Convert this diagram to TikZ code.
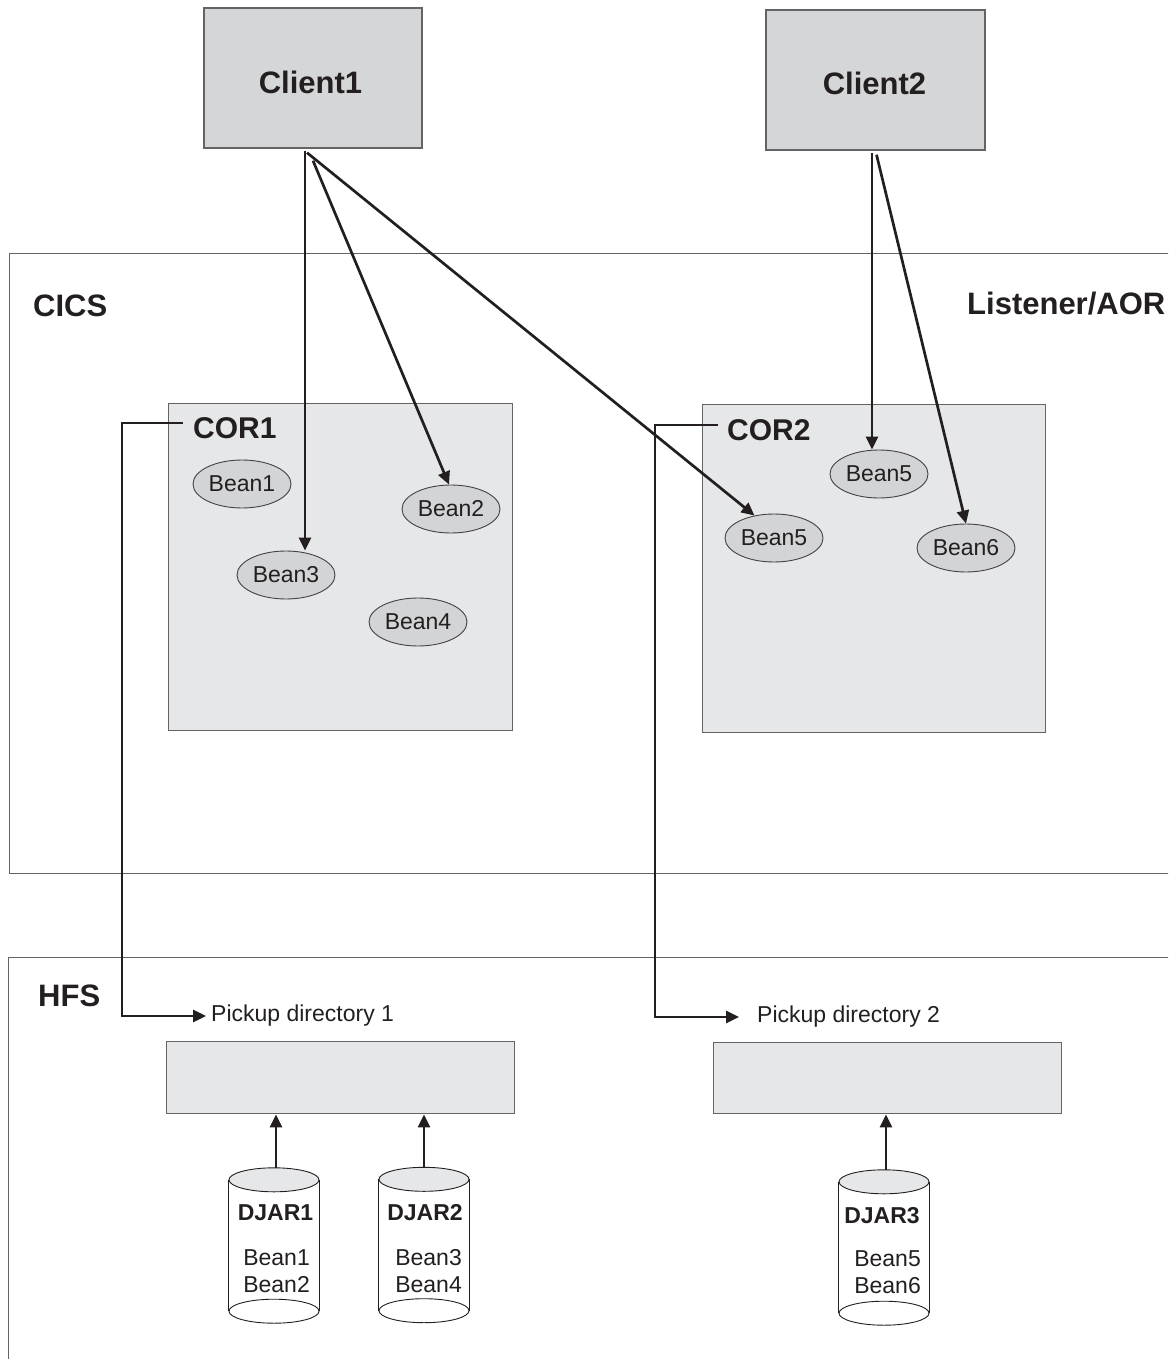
\documentclass[tikz,border=0pt]{standalone}
\usepackage{fontspec}
\setmainfont{Liberation Sans}
\usetikzlibrary{arrows.meta,shapes.geometric,calc}
\definecolor{ink}{HTML}{231F20}
\definecolor{frame}{HTML}{636466}
\definecolor{clientfill}{HTML}{D5D6D8}
\definecolor{lightfill}{HTML}{E6E7E8}
\definecolor{beanfill}{HTML}{D3D4D6}
\begin{document}
\begin{tikzpicture}[x=1pt,y=-1pt,
  box/.style={draw=frame,line width=1.4pt,inner sep=0pt},
  client/.style={box,fill=clientfill,minimum width=218pt,minimum height=140pt},
  clientlbl/.style={inner sep=0pt,font=\fontsize{31}{36}\selectfont\bfseries,text=ink},
  area/.style={box,anchor=north west},
  region/.style={box,fill=lightfill,anchor=north west},
  bean/.style={ellipse,draw=ink!85,line width=0.9pt,fill=beanfill,minimum width=98pt,
    minimum height=48pt,inner sep=0pt,font=\fontsize{23}{27}\selectfont,text=ink},
  biglbl/.style={anchor=base west,inner sep=0pt,font=\fontsize{31}{36}\selectfont\bfseries,text=ink},
  corlbl/.style={anchor=base west,inner sep=0pt,font=\fontsize{30}{36}\selectfont\bfseries,text=ink},
  picklbl/.style={anchor=west,inner ysep=0pt,font=\fontsize{23}{27}\selectfont,text=ink},
  cylbox/.style={minimum width=90pt,minimum height=131pt,inner sep=0pt},
  cylline/.style={draw=ink,line width=0.9pt},
  djlbl/.style={anchor=base,inner sep=0pt,font=\fontsize{23}{27}\selectfont\bfseries,text=ink},
  djbeans/.style={anchor=south east,inner sep=0pt,align=right,font=\fontsize{23}{27}\selectfont,text=ink},
  arr/.style={draw=ink,line width=2.7pt,-{Triangle[length=13pt,width=12pt]}}
]
\useasboundingbox (0,0) rectangle (1168,1359);
\clip (0,0) rectangle (1168,1359);

% clients
\node[client] (client1) at (313,78) {};
\node[client,minimum width=219pt] (client2) at (875.5,80) {};
\node[clientlbl] (client1lbl) at (310.5,82) {Client1};
\node[clientlbl] (client2lbl) at (874.5,83) {Client2};

% big regions
\node[area,minimum width=1191pt,minimum height=620pt] (cics) at (9,253) {};
\node[area,minimum width=1192pt,minimum height=450pt] (hfs) at (8,957) {};
\node[biglbl] (cicslbl) at (33,316) {CICS};
\node[biglbl] (aorlbl) at (967,314) {Listener/AOR};
\node[biglbl] (hfslbl) at (38,1006) {HFS};

% CORs
\node[region,minimum width=344pt,minimum height=327pt] (cor1) at (168,403) {};
\node[region,minimum width=343pt,minimum height=328pt] (cor2) at (702,404) {};
\node[corlbl] (cor1lbl) at (193,438) {COR1};
\node[corlbl] (cor2lbl) at (727,440) {COR2};

% beans
\node[bean] (bean1) at (242,484) {Bean1};
\node[bean] (bean2) at (451,509) {Bean2};
\node[bean] (bean3) at (286,575) {Bean3};
\node[bean] (bean4) at (418,622) {Bean4};
\node[bean] (bean5a) at (774,538) {Bean5};
\node[bean] (bean5b) at (879,474) {Bean5};
\node[bean] (bean6) at (966,548) {Bean6};

% client arrows
\draw[arr] ([xshift=-8pt,yshift=-2pt]client1.south) -- ([xshift=-8pt]client1.south |- bean3.north);
\draw[arr] ([yshift=-12pt]client1.south) -- ([xshift=-2pt]bean2.north);
\draw[arr] ([xshift=-6pt,yshift=-4pt]client1.south) -- (bean5a.131);
\draw[arr] ([xshift=-3.5pt,yshift=-2pt]client2.south) -- ([xshift=-3.5pt]client2.south |- bean5b.north);
\draw[arr] ([xshift=1pt,yshift=-4pt]client2.south) -- (bean6.north);

% pickup directories
\node[picklbl,inner xsep=5pt] (pick1) at (206,1016) {Pickup directory 1};
\node[picklbl,inner xsep=18pt] (pick2) at (739,1017) {Pickup directory 2};
\node[region,minimum width=348pt,minimum height=72pt] (pb1) at (166,1041) {};
\node[region,minimum width=348pt,minimum height=71pt] (pb2) at (713,1042) {};

\draw[arr] ([xshift=-10pt,yshift=15pt]cor1lbl.base west) -- ++(-61,0) |- (pick1.west);
\draw[arr] ([xshift=-9pt,yshift=15pt]cor2lbl.base west) -- ++(-63,0) |- (pick2.west);

% cylinders
\node[cylbox] (cyl1) at (274,1245.5) {};
\node[cylbox] (cyl2) at (424,1245) {};
\node[cylbox] (cyl3) at (884,1247.5) {};
\foreach \c in {cyl1,cyl2,cyl3}{
  \fill[white] (\c.north west) rectangle (\c.south east);
  \draw[cylline] (\c.north west) -- (\c.south west) (\c.north east) -- (\c.south east);
  \draw[cylline,fill=white] (\c.south) ellipse [x radius=45pt,y radius=12pt];
  \draw[cylline,fill=lightfill] (\c.north) ellipse [x radius=45pt,y radius=12pt];
}
\node[djlbl] (dj1) at (275.5,1220) {DJAR1};
\node[djlbl] (dj2) at (425,1220) {DJAR2};
\node[djlbl] (dj3) at (882,1223) {DJAR3};
\node[djbeans] (dj1b) at (310,1292.5) {Bean1\\Bean2};
\node[djbeans] (dj2b) at (462,1292.5) {Bean3\\Bean4};
\node[djbeans] (dj3b) at (921,1293.5) {Bean5\\Bean6};

\draw[arr] ([xshift=2pt,yshift=12pt]cyl1.north) -- ([xshift=2pt]cyl1.north |- pb1.south);
\draw[arr] ([yshift=12pt]cyl2.north) -- (cyl2.north |- pb1.south);
\draw[arr] ([xshift=2pt,yshift=12pt]cyl3.north) -- ([xshift=2pt]cyl3.north |- pb2.south);
\end{tikzpicture}
\end{document}
